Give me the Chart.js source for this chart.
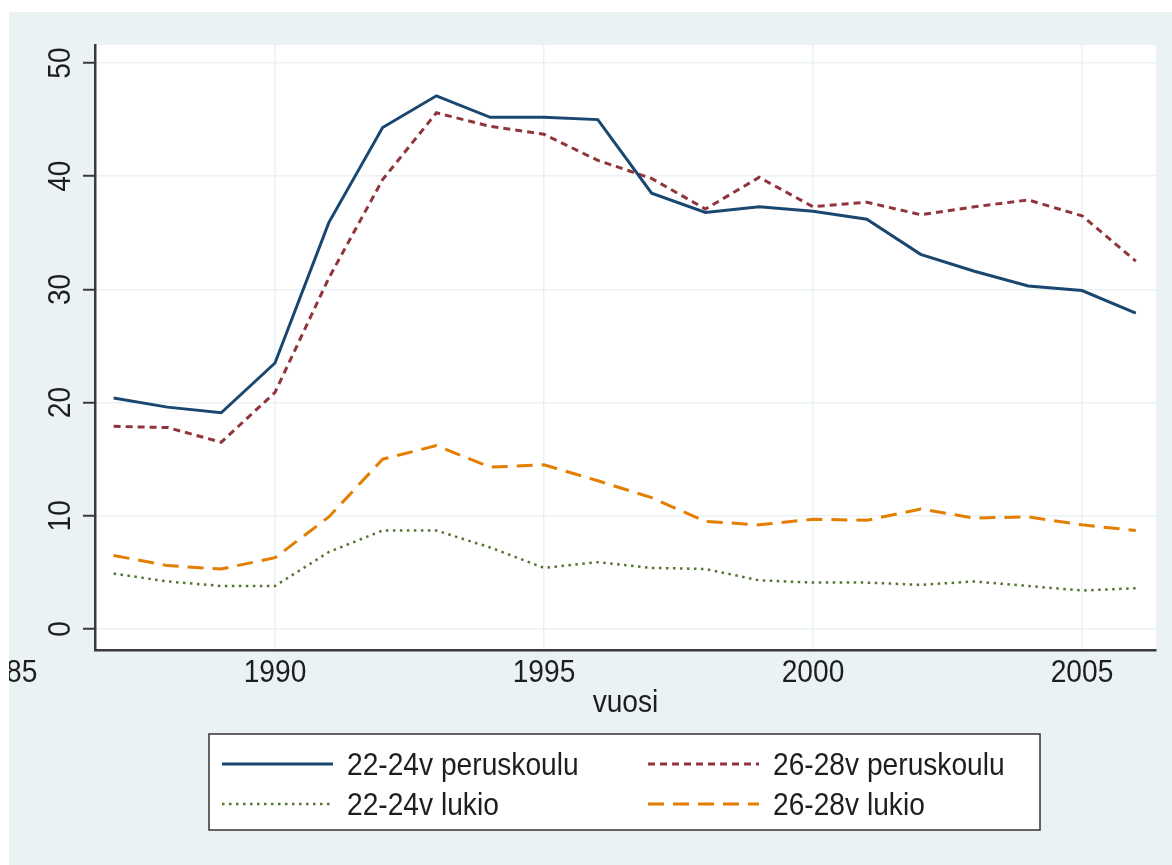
<!DOCTYPE html>
<html>
<head>
<meta charset="utf-8">
<script src="https://cdn.jsdelivr.net/npm/chart.js@4/dist/chart.umd.min.js"></script>
<style>
  html, body { margin: 0; padding: 0; background: #fff; }
  canvas { display: block; }
</style>
</head>
<body>
<canvas id="myChart" width="1172" height="865"></canvas>
<script>
// vuodet ja sarjat
const years = [1987, 1988, 1989, 1990, 1991, 1992, 1993, 1994, 1995, 1996,
  1997, 1998, 1999, 2000, 2001, 2002, 2003, 2004, 2005, 2006];
const peruskoulu2224 = [20.4, 19.6, 19.1, 23.5, 35.9, 44.3, 47.1, 45.2, 45.2, 45.0,
  38.5, 36.8, 37.3, 36.9, 36.2, 33.1, 31.6, 30.3, 29.9, 27.9];
const peruskoulu2628 = [17.9, 17.8, 16.5, 20.9, 31.0, 39.7, 45.6, 44.4, 43.7, 41.4,
  39.8, 37.1, 39.9, 37.3, 37.7, 36.6, 37.3, 37.9, 36.5, 32.5];
const lukio2224 = [4.9, 4.2, 3.8, 3.8, 6.8, 8.7, 8.7, 7.2, 5.4, 5.9,
  5.4, 5.3, 4.3, 4.1, 4.1, 3.9, 4.2, 3.8, 3.4, 3.6];
const lukio2628 = [6.5, 5.6, 5.3, 6.3, 9.9, 15.0, 16.2, 14.3, 14.5, 13.1,
  11.6, 9.5, 9.2, 9.7, 9.6, 10.6, 9.8, 9.9, 9.2, 8.7];
const seriesNames = ["22-24v peruskoulu", "26-28v peruskoulu", "22-24v lukio", "26-28v lukio"];
const xTickValues = [1985, 1990, 1995, 2000, 2005];
const xTickLabels = ["1985", "1990", "1995", "2000", "2005"];
const yTickValues = [0, 10, 20, 30, 40, 50];
const xTitle = "vuosi";

const FONT = "'Liberation Sans', Arial, sans-serif";
const BG = "#eaf2f3";
const AXIS = "#3a3a3a";
const TEXT = "#1e1e1e";

const ctx = document.getElementById("myChart").getContext("2d");

const pts = (arr) => arr.map((v, i) => ({ x: years[i], y: v }));

// kapea teksti: vaakasuunnassa puristettu Liberation Sans
function narrowText(c, text, x, y, size, align, squeeze, rot) {
  c.save();
  c.translate(x, y);
  if (rot) c.rotate(rot);
  c.scale(squeeze, 1);
  c.font = size + "px " + FONT;
  c.fillStyle = TEXT;
  c.textAlign = align;
  c.textBaseline = "alphabetic";
  c.fillText(text, 0, 0);
  c.restore();
}

// tausta ja valkoinen kuva-alue
const backgroundPlugin = {
  id: "stataBg",
  beforeDraw(chart) {
    const c = chart.ctx;
    const a = chart.chartArea;
    c.save();
    c.fillStyle = BG;
    c.fillRect(0, 0, chart.width, chart.height);
    c.fillStyle = "#fff";
    c.fillRect(a.left, a.top, a.width, a.height);
    c.restore();
  },
};

// akselien tekstit
const axisTextPlugin = {
  id: "axisText",
  afterDraw(chart) {
    const c = chart.ctx;
    const xs = chart.scales.x;
    const ys = chart.scales.y;
    yTickValues.forEach((v) => {
      narrowText(c, String(v), 70, ys.getPixelForValue(v), 32, "center", 0.88, -Math.PI / 2);
    });
    xTickValues.forEach((v, i) => {
      narrowText(c, xTickLabels[i], xs.getPixelForValue(v), 682, 32, "center", 0.88, 0);
    });
    narrowText(c, xTitle, (xs.left + xs.right) / 2, 712, 32, "center", 0.88, 0);
  },
};

// selite laatikossa
const legendPlugin = {
  id: "boxLegend",
  afterDraw(chart) {
    const c = chart.ctx;
    const box = { x: 209, y: 734, w: 831, h: 96 };
    c.save();
    c.fillStyle = "#fff";
    c.fillRect(box.x, box.y, box.w, box.h);
    c.strokeStyle = "#333";
    c.lineWidth = 1.5;
    c.strokeRect(box.x, box.y, box.w, box.h);
    const cols = [222, 648];
    const rows = [764, 804];
    chart.data.datasets.forEach((ds, k) => {
      const lx = cols[k % 2];
      const ly = rows[Math.floor(k / 2)];
      c.save();
      c.strokeStyle = ds.borderColor;
      c.lineWidth = ds.borderWidth;
      c.setLineDash(ds.borderDash || []);
      c.beginPath();
      c.moveTo(lx, ly);
      c.lineTo(lx + 111, ly);
      c.stroke();
      c.restore();
      narrowText(c, ds.label, lx + 125, ly + 11, 32, "left", 0.88, 0);
    });
    c.restore();
  },
};

// kuvan valkoinen reunus viimeisenä (leikkaa "1985"-tekstin alun)
const borderPlugin = {
  id: "whiteEdge",
  afterDraw(chart) {
    const c = chart.ctx;
    c.save();
    c.fillStyle = "#fff";
    c.fillRect(0, 0, chart.width, 12);
    c.fillRect(0, 0, 9, chart.height);
    c.restore();
  },
};

const myChart = new Chart(ctx, {
  type: "line",
  data: {
    datasets: [
      {
        label: seriesNames[0],
        data: pts(peruskoulu2224),
        borderColor: "#1a476f",
        borderWidth: 3,
      },
      {
        label: seriesNames[1],
        data: pts(peruskoulu2628),
        borderColor: "#90353b",
        borderWidth: 3,
        borderDash: [7, 5],
      },
      {
        label: seriesNames[2],
        data: pts(lukio2224),
        borderColor: "#55752f",
        borderWidth: 2.5,
        borderDash: [2.5, 4.5],
      },
      {
        label: seriesNames[3],
        data: pts(lukio2628),
        borderColor: "#e37e00",
        borderWidth: 3,
        borderDash: [16, 9],
      },
    ],
  },
  options: {
    responsive: false,
    animation: false,
    events: [],
    layout: {
      padding: { left: 0, right: 16, top: 45, bottom: 0 },
    },
    elements: {
      point: { radius: 0 },
      line: { tension: 0, borderCapStyle: "butt" },
    },
    scales: {
      x: {
        type: "linear",
        min: 1986.654,
        max: 2006.375,
        afterFit: (s) => {
          s.height = 215;
          s.paddingLeft = 0;
          s.paddingRight = 0;
        },
        afterBuildTicks: (s) => {
          s.ticks = xTickValues.map((v) => ({ value: v }));
        },
        border: { display: true, color: AXIS, width: 2.5 },
        grid: {
          drawTicks: false,
          lineWidth: 1.5,
          color: (c) => (c.tick && c.tick.value < 1986 ? "rgba(0,0,0,0)" : BG),
        },
        ticks: { display: false },
      },
      y: {
        min: -1.855,
        max: 51.59,
        afterFit: (s) => {
          s.width = 95;
          s.paddingTop = 0;
          s.paddingBottom = 0;
        },
        afterBuildTicks: (s) => {
          s.ticks = yTickValues.map((v) => ({ value: v }));
        },
        border: { display: true, color: AXIS, width: 2.5 },
        grid: {
          drawTicks: true,
          tickLength: 12,
          tickWidth: 2,
          tickColor: AXIS,
          lineWidth: 1.5,
          color: BG,
        },
        ticks: { display: false },
      },
    },
    plugins: {
      legend: { display: false },
      tooltip: { enabled: false },
    },
  },
  plugins: [backgroundPlugin, axisTextPlugin, legendPlugin, borderPlugin],
});
</script>
</body>
</html>
